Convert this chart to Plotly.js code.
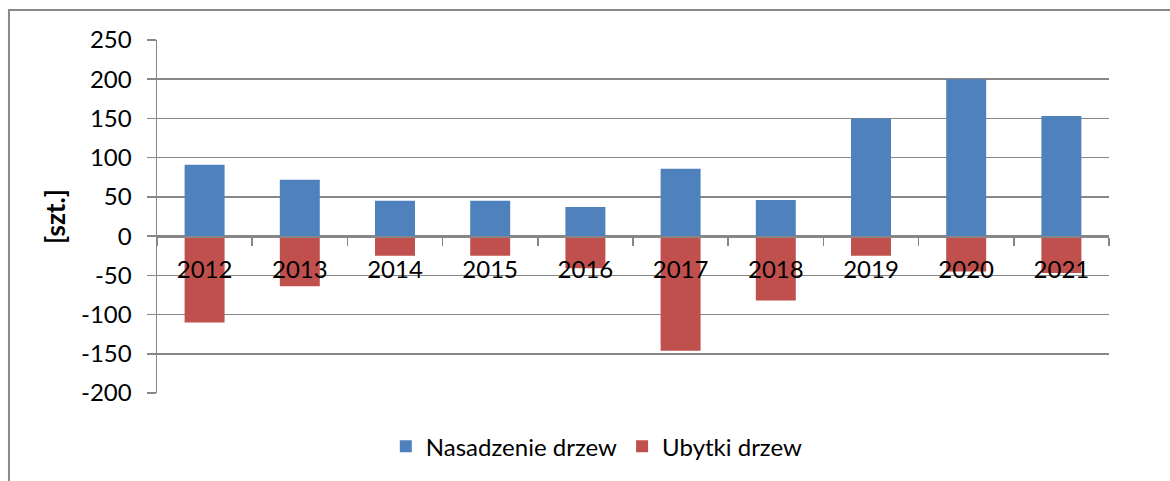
<!DOCTYPE html>
<html><head><meta charset="utf-8">
<script src="https://cdn.plot.ly/plotly-3.0.1.min.js"></script>
<style>body{margin:0;background:#fff}#c{width:1170px;height:481px}</style>
</head><body><div id="c"></div>
<script>
const years = ['2012','2013','2014','2015','2016','2017','2018','2019','2020','2021'];
const nasadzenie = [91, 72, 45, 45, 37, 86, 46, 150, 200, 153];
const ubytki = [-110, -64, -25, -25, -41, -146, -82, -25, -45, -47];
const yTicks = [-200,-150,-100,-50,0,50,100,150,200,250];

const FONT = 'Lato, "Open Sans", sans-serif';
const traces = [
  {type:'bar', name:'Nasadzenie drzew', x:years, y:nasadzenie, marker:{color:'#4F81BD'}},
  {type:'bar', name:'Ubytki drzew', x:years, y:ubytki, marker:{color:'#C0504D'}}
];
const layout = {
  width:1170, height:481,
  margin:{l:157, r:61, t:40, b:88},
  paper_bgcolor:'#fff', plot_bgcolor:'#fff',
  barmode:'relative', bargap:0.58,
  font:{family:FONT, color:'#000', size:24},
  showlegend:true,
  legend:{orientation:'h', x:0.462, xanchor:'center', y:-0.152, yanchor:'middle',
          font:{size:24, family:FONT}, itemwidth:30, traceorder:'normal'},
  xaxis:{type:'category', anchor:'free', position:0.4444, showline:true, linecolor:'#878787', linewidth:1.5,
         ticks:'outside', tickson:'boundaries', ticklen:8, tickcolor:'#878787', tickwidth:1.5,
         showgrid:false, zeroline:false, tickfont:{size:24, family:FONT}, ticklabelstandoff:12},
  yaxis:{range:[-200,250], tickvals:yTicks, ticktext:yTicks.map(String), showline:true, linecolor:'#878787', linewidth:1.5,
         ticks:'outside', ticklen:9, tickcolor:'#878787', tickwidth:1.5,
         showgrid:true, gridcolor:'#878787', gridwidth:1.5, zeroline:false,
         tickfont:{size:24, family:FONT}, ticklabelstandoff:10,
         title:{text:'[szt.]', font:{size:26, family:FONT, weight:'bold'}, standoff:8}},
  shapes:[{type:'rect', xref:'paper', yref:'paper', x0:-0.1555, x1:1.2, y0:-0.35, y1:1.085,
           line:{color:'#888', width:2}, fillcolor:'rgba(0,0,0,0)', layer:'below'}]
};
Plotly.newPlot('c', traces, layout, {displayModeBar:false, staticPlot:true});
</script></body></html>
